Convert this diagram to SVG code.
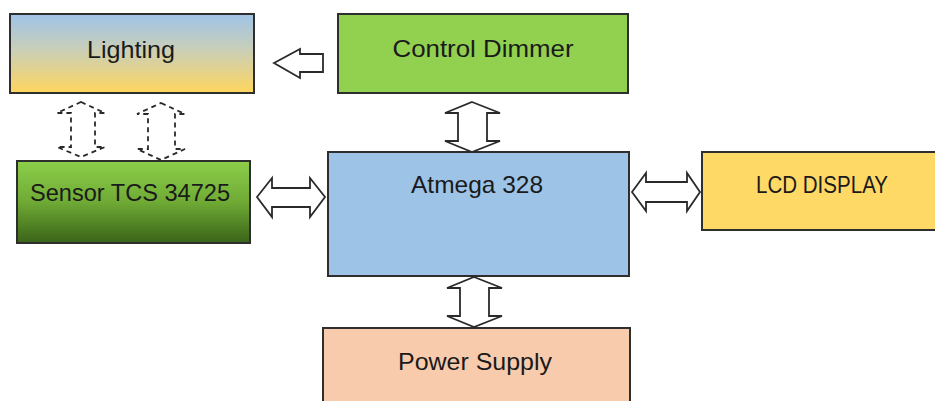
<svg xmlns="http://www.w3.org/2000/svg" width="935" height="401" viewBox="0 0 935 401">
<defs>
<linearGradient id="gLight" x1="0" y1="0" x2="0" y2="1">
<stop offset="0" stop-color="#9fc3e8"/>
<stop offset="0.45" stop-color="#c9cfb8"/>
<stop offset="1" stop-color="#ffd65e"/>
</linearGradient>
<linearGradient id="gSensor" x1="0" y1="0" x2="0" y2="1">
<stop offset="0" stop-color="#8ccf4a"/>
<stop offset="0.5" stop-color="#6faa35"/>
<stop offset="1" stop-color="#3a6318"/>
</linearGradient>
<style>
.box{stroke:#2e2e2e;stroke-width:2}
.lbl{font-family:"Liberation Sans",Arial,sans-serif;font-size:24px;fill:#1a1a1a;text-anchor:middle}
.arr{fill:#ffffff;stroke:#2a2a2a;stroke-width:1.8;stroke-linejoin:miter}
.dash{fill:none;stroke:#2a2a2a;stroke-width:1.8;stroke-dasharray:5 4}
</style>
</defs>
<rect width="935" height="401" fill="#ffffff"/>
<g id="lighting">
<rect class="box" x="10" y="14" width="244" height="79" fill="url(#gLight)"/>
<text class="lbl" x="131" y="58" textLength="88" lengthAdjust="spacingAndGlyphs">Lighting</text>
</g>
<g id="control-dimmer">
<rect class="box" x="338" y="14" width="290" height="79" fill="#92d050"/>
<text class="lbl" x="483" y="57" textLength="181" lengthAdjust="spacingAndGlyphs">Control Dimmer</text>
</g>
<g id="sensor">
<rect class="box" x="17" y="161" width="233" height="82" fill="url(#gSensor)"/>
<text class="lbl" x="130" y="201" textLength="200" lengthAdjust="spacingAndGlyphs">Sensor TCS 34725</text>
</g>
<g id="atmega">
<rect class="box" x="328" y="152" width="301" height="124" fill="#9dc3e6"/>
<text class="lbl" x="477" y="193" textLength="132" lengthAdjust="spacingAndGlyphs">Atmega 328</text>
</g>
<g id="lcd">
<rect class="box" x="702" y="152" width="240" height="78" fill="#ffd966"/>
<text class="lbl" x="822" y="193" textLength="132" lengthAdjust="spacingAndGlyphs">LCD DISPLAY</text>
</g>
<g id="power">
<rect class="box" x="323" y="328" width="307" height="80" fill="#f8cbad"/>
<text class="lbl" x="475" y="370" textLength="154" lengthAdjust="spacingAndGlyphs">Power Supply</text>
</g>
<g id="connectors">
<polygon class="arr" points="274,63 300,49 300,54 323,54 323,72 300,72 300,78"/>
<polygon class="arr" points="257,197 272,178 272,188 310,188 310,178 325,197 310,217 310,207 272,207 272,217"/>
<polygon class="arr" points="632,192 646,173 646,182 687,182 687,173 700,192 687,211 687,202 646,202 646,211"/>
<polygon class="arr" points="472,102 500,113 487,113 487,141 500,141 472,152 445,141 458,141 458,113 445,113"/>
<polygon class="arr" points="474,277 502,288 489,288 489,316 502,316 474,327 447,316 460,316 460,288 447,288"/>
<polygon class="dash" points="81,102 105,113 95,113 95,147 105,147 81,157 57,147 71,147 71,113 57,113"/>
<polygon class="dash" points="161,103 185,114 175,114 175,149 185,149 161,160 137,149 148,149 148,114 137,114"/>
</g>
</svg>
